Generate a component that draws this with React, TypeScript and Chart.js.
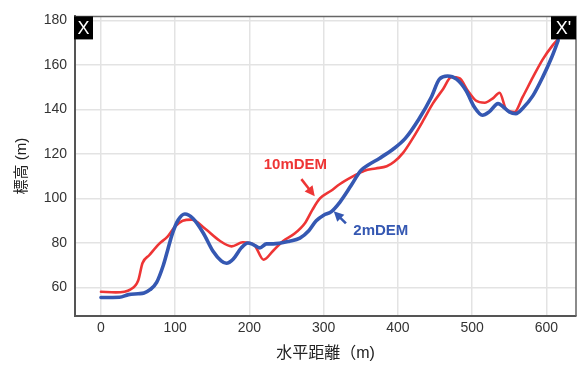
import React, { useEffect, useRef } from "react";
import { Chart, registerables } from "chart.js";

Chart.register(...registerables);

// 10mDEM profile (horizontal distance m, elevation m)
const redDist = [0, 20, 40, 50, 56, 65, 78, 90, 100, 110, 122, 140, 160, 176, 191, 200, 207, 219, 232, 245, 260, 275, 285, 295, 310, 322, 340, 355, 370, 385, 395, 407, 420, 435, 447, 461, 472, 483, 494, 505, 517, 528, 537, 546, 557, 568, 582, 595, 609, 617];
const redElev = [58.1, 57.8, 59.2, 63, 71, 74.5, 79.5, 83, 87.5, 90, 90.5, 86.5, 81, 78.5, 80.3, 80, 79, 72.5, 76.5, 80.8, 84, 89, 95, 100, 103.5, 106.5, 110, 112.5, 113.5, 114.5, 116.5, 120.5, 127, 135.5, 142.6, 149.2, 154.5, 154, 148.5, 144, 143, 145, 147.5, 140, 138.8, 145.5, 154.5, 162.4, 169, 172];

// 2mDEM profile
const blueDist = [0, 25, 37, 50, 58, 66, 75, 84, 90, 96, 104, 113, 124, 138, 151, 162, 169, 178, 189, 198, 205, 214, 223, 232, 254, 268, 280, 290, 300, 310, 322, 337, 350, 360, 375, 393, 410, 428, 445, 456, 467, 479, 492, 503, 514, 523, 535, 541, 550, 559, 568, 582, 595, 607, 616];
const blueElev = [55.5, 55.6, 56.8, 57.2, 57.5, 59, 62.3, 70, 77, 84, 90.3, 93, 91, 84.4, 76.3, 72, 70.9, 72.7, 77.8, 80, 79.3, 77.8, 79.6, 79.6, 80.8, 82.2, 85.5, 90, 92.5, 94, 98.4, 105.8, 112.5, 115, 118, 122, 127, 135.5, 145.5, 153.6, 155, 153.6, 148.4, 141.1, 137.4, 138.9, 142.6, 141.4, 138.9, 138.1, 140.4, 146.2, 154.4, 163.2, 171];

const xTickValues = [0, 100, 200, 300, 400, 500, 600];
const yTickValues = [60, 80, 100, 120, 140, 160, 180];

const seriesNames = ["10mDEM", "2mDEM"];
const xTitle = "水平距離（m)";
const yTitle = "標高 (m)";
const startLabel = "X";
const endLabel = "X'";

// annotation anchors in data units: [textX, textY, arrowTailX, arrowTailY, arrowHeadX, arrowHeadY]
const redNote = [262, 115.2, 270, 108.7, 288, 101];
const blueNote = [377, 85.6, 330, 88.8, 313.6, 94.3];

const RED = "#ee3535";
const BLUE = "#3558b2";

function drawArrow(ctx: CanvasRenderingContext2D, x1: number, y1: number, x2: number, y2: number, color: string) {
  const ang = Math.atan2(y2 - y1, x2 - x1);
  const hl = 10;
  const hw = 5;
  ctx.strokeStyle = color;
  ctx.fillStyle = color;
  ctx.lineWidth = 2.5;
  ctx.beginPath();
  ctx.moveTo(x1, y1);
  ctx.lineTo(x2 - Math.cos(ang) * hl * 0.8, y2 - Math.sin(ang) * hl * 0.8);
  ctx.stroke();
  ctx.beginPath();
  ctx.moveTo(x2, y2);
  ctx.lineTo(x2 - Math.cos(ang) * hl - Math.sin(ang) * hw, y2 - Math.sin(ang) * hl + Math.cos(ang) * hw);
  ctx.lineTo(x2 - Math.cos(ang) * hl + Math.sin(ang) * hw, y2 - Math.sin(ang) * hl - Math.cos(ang) * hw);
  ctx.closePath();
  ctx.fill();
}

const overlayPlugin = {
  id: "overlay",
  afterDatasetsDraw(chart: any) {
    const { ctx, chartArea: a, scales } = chart;
    const x = scales.x;
    const y = scales.y;
    ctx.save();
    // frame top and right
    ctx.strokeStyle = "#666";
    ctx.lineWidth = 1.5;
    ctx.beginPath();
    ctx.moveTo(a.left, a.top);
    ctx.lineTo(a.right, a.top);
    ctx.lineTo(a.right, a.bottom);
    ctx.stroke();

    // annotations
    const notes: [number[], string, string][] = [
      [redNote, seriesNames[0], RED],
      [blueNote, seriesNames[1], BLUE],
    ];
    for (const [n, label, color] of notes) {
      ctx.font = "bold 15px 'Liberation Sans', Arial, sans-serif";
      ctx.fillStyle = color;
      ctx.textAlign = "center";
      ctx.textBaseline = "middle";
      ctx.fillText(label, x.getPixelForValue(n[0]), y.getPixelForValue(n[1]));
      drawArrow(
        ctx,
        x.getPixelForValue(n[2]),
        y.getPixelForValue(n[3]),
        x.getPixelForValue(n[4]),
        y.getPixelForValue(n[5]),
        color
      );
    }

    // X and X' markers
    ctx.fillStyle = "#000";
    ctx.fillRect(a.left - 1, a.top, 19, 23);
    ctx.fillRect(a.right - 25, a.top, 25, 23);
    ctx.fillStyle = "#fff";
    ctx.font = "18px 'Liberation Sans', Arial, sans-serif";
    ctx.textAlign = "center";
    ctx.textBaseline = "middle";
    ctx.fillText(startLabel, a.left + 8.5, a.top + 12.5);
    ctx.fillText(endLabel, a.right - 12.5, a.top + 12.5);
    ctx.restore();
  },
};

export default function App() {
  const canvasRef = useRef<HTMLCanvasElement | null>(null);

  useEffect(() => {
    const canvas = canvasRef.current;
    if (!canvas) return;
    const font = "'Liberation Sans', 'Noto Sans CJK JP', Arial, sans-serif";
    const chart = new Chart(canvas, {
      type: "line",
      data: {
        datasets: [
          {
            label: seriesNames[0],
            data: redDist.map((d, i) => ({ x: d, y: redElev[i] })),
            borderColor: RED,
            borderWidth: 2.6,
            pointRadius: 0,
            tension: 0.3,
            cubicInterpolationMode: "monotone",
            borderJoinStyle: "round",
            borderCapStyle: "round",
            order: 1,
          },
          {
            label: seriesNames[1],
            data: blueDist.map((d, i) => ({ x: d, y: blueElev[i] })),
            borderColor: BLUE,
            borderWidth: 3.6,
            pointRadius: 0,
            tension: 0.3,
            cubicInterpolationMode: "monotone",
            borderJoinStyle: "round",
            borderCapStyle: "round",
            order: 0,
          },
        ],
      },
      options: {
        responsive: false,
        animation: false,
        layout: { padding: { top: 11, right: 1, left: 0, bottom: 0 } },
        plugins: {
          legend: { display: false },
          tooltip: { enabled: false },
        },
        scales: {
          x: {
            type: "linear",
            min: -35,
            max: 640,
            afterFit: (s: any) => {
              s.height = 49;
            },
            afterBuildTicks: (s: any) => {
              s.ticks = xTickValues.map((v) => ({ value: v }));
            },
            ticks: {
              padding: 4,
              color: "#333",
              font: { family: font, size: 14 },
              maxRotation: 0,
            },
            grid: { color: "#e3e3e3", lineWidth: 1.5, drawTicks: false },
            border: { color: "#555", width: 2 },
            title: {
              display: true,
              text: xTitle,
              color: "#222",
              font: { family: font, size: 16 },
              padding: { top: 0, bottom: 2 },
            },
          },
          y: {
            type: "linear",
            min: 47.2,
            max: 181.8,
            afterFit: (s: any) => {
              s.width = 75;
            },
            afterBuildTicks: (s: any) => {
              s.ticks = yTickValues.map((v) => ({ value: v }));
            },
            ticks: {
              padding: 8,
              color: "#333",
              font: { family: font, size: 14 },
            },
            grid: { color: "#e3e3e3", lineWidth: 1.5, drawTicks: false },
            border: { color: "#555", width: 2 },
            title: {
              display: true,
              text: yTitle,
              color: "#222",
              font: { family: font, size: 15 },
              padding: { top: 13, bottom: 0 },
            },
          },
        },
      },
      plugins: [overlayPlugin],
    } as any);
    return () => chart.destroy();
  }, []);

  return (
    <div style={{ position: "fixed", left: 0, top: 0, width: 577, height: 365, background: "#fff" }}>
      <canvas ref={canvasRef} width={577} height={365} style={{ width: 577, height: 365, display: "block" }} />
    </div>
  );
}
